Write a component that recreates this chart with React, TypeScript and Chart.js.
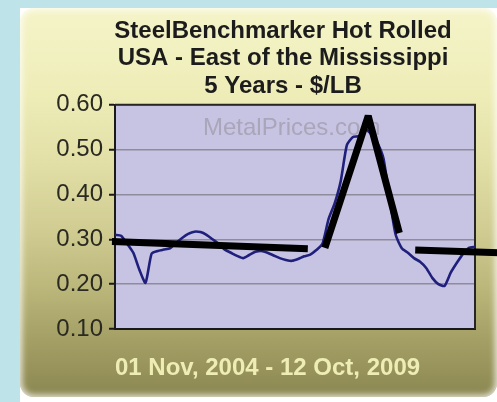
import React, { useEffect, useRef } from "react";
import { Chart, registerables } from "chart.js";

Chart.register(...registerables);

const titleLines = ["SteelBenchmarker Hot Rolled", "USA - East of the Mississippi", "5 Years - $/LB"];
const dateRange = "01 Nov, 2004 - 12 Oct, 2009";
const watermark = "MetalPrices.com";

const months = [
  "Nov 2004", "Dec 2004",
  "Jan 2005", "Feb 2005", "Mar 2005", "Apr 2005", "May 2005", "Jun 2005", "Jul 2005", "Aug 2005", "Sep 2005", "Oct 2005", "Nov 2005", "Dec 2005",
  "Jan 2006", "Feb 2006", "Mar 2006", "Apr 2006", "May 2006", "Jun 2006", "Jul 2006", "Aug 2006", "Sep 2006", "Oct 2006", "Nov 2006", "Dec 2006",
  "Jan 2007", "Feb 2007", "Mar 2007", "Apr 2007", "May 2007", "Jun 2007", "Jul 2007", "Aug 2007", "Sep 2007", "Oct 2007", "Nov 2007", "Dec 2007",
  "Jan 2008", "Feb 2008", "Mar 2008", "Apr 2008", "May 2008", "Jun 2008", "Jul 2008", "Aug 2008", "Sep 2008", "Oct 2008", "Nov 2008", "Dec 2008",
  "Jan 2009", "Feb 2009", "Mar 2009", "Apr 2009", "May 2009", "Jun 2009", "Jul 2009", "Aug 2009", "Sep 2009", "Oct 2009",
];

const prices = [
  0.31, 0.308, 0.29, 0.27, 0.232, 0.203, 0.268, 0.274, 0.277, 0.28,
  0.292, 0.303, 0.312, 0.317, 0.316, 0.31, 0.3, 0.29, 0.277, 0.27,
  0.263, 0.258, 0.265, 0.272, 0.274, 0.27, 0.264, 0.258, 0.254, 0.252,
  0.256, 0.262, 0.266, 0.276, 0.29, 0.345, 0.38, 0.43, 0.51, 0.528,
  0.53, 0.545, 0.535, 0.515, 0.48, 0.39, 0.31, 0.28, 0.27, 0.258,
  0.25, 0.236, 0.214, 0.2, 0.196, 0.225, 0.247, 0.267, 0.281, 0.283,
];

// hand-drawn black trend marks (position in months from Nov 2004, value $/LB)
const markAPos = [-0.5, 31.6];
const markAVal = [0.295, 0.279];
const markBPos = [34.4, 41.5, 46.6];
const markBVal = [0.281, 0.575, 0.314];
const markCPos = [49.2, 63];
const markCVal = [0.276, 0.27];

const yTicks = [0.1, 0.2, 0.3, 0.4, 0.5, 0.6];

const FONT = "'Liberation Sans', Arial, sans-serif";

const toPoints = (pos: number[], val: number[]) => pos.map((p, i) => ({ x: p, y: val[i] }));

const framePlugin = {
  id: "plotFrame",
  beforeDraw(chart: any) {
    const { ctx, chartArea: a } = chart;
    ctx.save();
    ctx.fillStyle = "#c7c3e2";
    ctx.fillRect(a.left, a.top, a.right - a.left, a.bottom - a.top);
    ctx.restore();
  },
  beforeDatasetsDraw(chart: any) {
    const { ctx, chartArea: a } = chart;
    ctx.save();
    ctx.font = `24px ${FONT}`;
    ctx.fillStyle = "#a9a6ba";
    ctx.textAlign = "left";
    ctx.textBaseline = "alphabetic";
    ctx.fillText(watermark, a.left + 88, a.top + 30);
    ctx.strokeStyle = "#262626";
    ctx.lineWidth = 2;
    ctx.beginPath();
    ctx.moveTo(a.left, a.top);
    ctx.lineTo(a.right, a.top);
    ctx.lineTo(a.right, a.bottom);
    ctx.stroke();
    ctx.restore();
  },
};

export default function App() {
  const ref = useRef<HTMLCanvasElement | null>(null);

  useEffect(() => {
    if (!ref.current) return;
    const markStyle = {
      borderColor: "#000",
      borderWidth: 7,
      pointRadius: 0,
      borderJoinStyle: "bevel" as const,
      borderCapStyle: "butt" as const,
      clip: false as any,
      order: 1,
      tension: 0,
    };
    const chart = new Chart(ref.current, {
      type: "line",
      data: {
        datasets: [
          {
            label: "Hot Rolled",
            data: prices.map((v, i) => ({ x: i, y: v, m: months[i] })) as any,
            borderColor: "#1f1f7c",
            borderWidth: 2.6,
            pointRadius: 0,
            tension: 0.2,
            order: 2,
          },
          { label: "markA", data: toPoints(markAPos, markAVal), ...markStyle },
          { label: "markB", data: toPoints(markBPos, markBVal), ...markStyle },
          { label: "markC", data: toPoints(markCPos, markCVal), ...markStyle },
        ],
      },
      options: {
        animation: false,
        responsive: false,
        events: [],
        layout: { padding: { left: 0, right: 0, top: 0, bottom: 0 } },
        plugins: {
          legend: { display: false },
          tooltip: { enabled: false },
          title: {
            display: true,
            text: titleLines,
            color: "#1c1c1c",
            font: { family: FONT, size: 24, weight: "bold", lineHeight: 1.135 },
            padding: { top: 10, bottom: 5 },
          },
        },
        scales: {
          x: {
            type: "linear",
            min: 0,
            max: months.length - 1,
            grid: { display: false },
            ticks: { display: false },
            border: { display: true, color: "#1a1a1a", width: 2 },
            title: {
              display: true,
              text: dateRange,
              align: "start",
              color: "#efedb6",
              font: { family: FONT, size: 24, weight: "bold", lineHeight: 1.2 },
              padding: { top: 0, bottom: 19 },
            },
            afterFit: (s: any) => {
              s.height = 73;
            },
          },
          y: {
            min: 0.1,
            max: 0.6,
            afterBuildTicks: (s: any) => {
              s.ticks = yTicks.map((v) => ({ value: v }));
            },
            ticks: {
              color: "#2a2a22",
              font: { family: FONT, size: 24 },
              padding: 6,
              callback: (v: any) => Number(v).toFixed(2),
            },
            grid: {
              color: "#8e8c9c",
              lineWidth: 1.5,
              drawTicks: true,
              tickLength: 6,
              tickColor: "#1a1a1a",
              tickWidth: 2,
            },
            border: { display: true, color: "#1a1a1a", width: 2 },
            afterFit: (s: any) => {
              s.width = 95;
            },
          },
          spacer: {
            type: "linear",
            position: "right",
            display: true,
            grid: { display: false },
            ticks: { display: false },
            border: { display: false },
            afterFit: (s: any) => {
              s.width = 71;
            },
          },
        },
      },
      plugins: [framePlugin],
    });
    return () => chart.destroy();
  }, []);

  return (
    <div
      style={{
        position: "absolute",
        left: 0,
        top: 0,
        width: 497,
        height: 402,
        background: "#bee3e8",
        overflow: "hidden",
      }}
    >
      <div style={{ position: "absolute", left: 20, top: 8, width: 477, height: 394, background: "#ffffff", overflow: "hidden" }}>
        <div
          style={{
            position: "absolute",
            left: 0,
            top: 0,
            width: 477,
            height: 389,
            borderRadius: 14,
            background:
              "linear-gradient(to bottom, #f5f4c9 0%, #eeedb8 22%, #e2dfa6 40%, #d0cc92 57%, #bbb77b 72%, #a29e64 86%, #8b8751 100%)",
            boxShadow: "inset 0 0 6px 2px rgba(255,255,255,0.8)",
          }}
        />
        <canvas
          ref={ref}
          width={526}
          height={394}
          style={{ position: "absolute", left: 0, top: 0, width: 526, height: 394 }}
        />
      </div>
    </div>
  );
}
